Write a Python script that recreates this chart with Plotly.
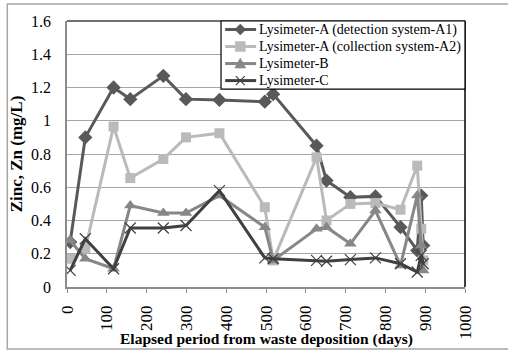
import plotly.graph_objects as go

days = [8, 46, 117, 159, 242, 299, 383, 497, 518, 627, 652, 712, 775, 838, 880, 890, 895]
lys_A1 = [0.27, 0.90, 1.20, 1.13, 1.27, 1.13, 1.125, 1.115, 1.16, 0.85, 0.64, 0.54, 0.545, 0.36, 0.22, 0.55, 0.25]
lys_A2 = [0.17, 0.23, 0.965, 0.655, 0.77, 0.90, 0.925, 0.48, 0.16, 0.78, 0.40, 0.50, 0.505, 0.465, 0.73, 0.35, 0.16]
lys_B = [0.28, 0.17, 0.11, 0.49, 0.445, 0.445, 0.55, 0.36, 0.16, 0.35, 0.36, 0.26, 0.46, 0.13, 0.55, 0.25, 0.10]
lys_C = [0.10, 0.29, 0.11, 0.355, 0.355, 0.37, 0.58, 0.175, 0.17, 0.16, 0.155, 0.165, 0.175, 0.14, 0.09, 0.19, 0.14]

names = ["Lysimeter-A (detection system-A1)", "Lysimeter-A (collection system-A2)",
         "Lysimeter-B", "Lysimeter-C"]

x_ticks = [0, 100, 200, 300, 400, 500, 600, 700, 800, 900, 1000]
y_ticks = [0, 0.2, 0.4, 0.6, 0.8, 1.0, 1.2, 1.4, 1.6]
y_ticktext = ["0", "0.2", "0.4", "0.6", "0.8", "1", "1.2", "1.4", "1.6"]

FONT = "Liberation Serif"
colors = ["#595959", "#BABABA", "#878787", "#404040"]

fig = go.Figure()
fig.add_trace(go.Scatter(x=days, y=lys_A1, name=names[0], mode="lines+markers",
                         line=dict(color=colors[0], width=3),
                         marker=dict(symbol="diamond", size=11, color=colors[0])))
fig.add_trace(go.Scatter(x=days, y=lys_A2, name=names[1], mode="lines+markers",
                         line=dict(color=colors[1], width=3),
                         marker=dict(symbol="square", size=10, color=colors[1])))
fig.add_trace(go.Scatter(x=days, y=lys_B, name=names[2], mode="lines+markers",
                         line=dict(color=colors[2], width=3),
                         marker=dict(symbol="triangle-up", size=11, color=colors[2])))
fig.add_trace(go.Scatter(x=days, y=lys_C, name=names[3], mode="lines+markers",
                         line=dict(color=colors[3], width=3),
                         marker=dict(symbol="x-thin-open", size=11,
                                     line=dict(color=colors[3], width=1.2))))

# outer chart border
fig.add_shape(type="rect", xref="paper", yref="paper",
              x0=-0.150, x1=1.113, y0=-0.233, y1=1.064,
              line=dict(color="#A6A6A6", width=1.5), layer="below")
# plot area top/right edges
fig.add_shape(type="line", xref="paper", yref="paper", x0=0, x1=1, y0=1, y1=1,
              line=dict(color="#404040", width=1.5))
fig.add_shape(type="line", xref="paper", yref="paper", x0=1, x1=1, y0=0, y1=1,
              line=dict(color="#000000", width=1.5))

# custom legend (compact, like the original)
LX0, LX1, LY0, LY1 = 0.387, 1.0, 0.744, 1.0
fig.add_shape(type="rect", xref="paper", yref="paper", x0=LX0, x1=LX1, y0=LY0, y1=LY1,
              fillcolor="white", line=dict(color="#000000", width=1.2), layer="above")
row_y = [0.968, 0.904, 0.840, 0.776]
line_x0, line_x1, mark_x, text_x = 0.3974, 0.4752, 0.4354, 0.4779
marker_paths = [
    ("M0,-5.5 L5.5,0 L0,5.5 L-5.5,0 Z", True),
    ("M-5,-5 L5,-5 L5,5 L-5,5 Z", True),
    ("M-5.5,-4.5 L5.5,-4.5 L0,5.5 Z", True),
    ("M-4.5,-4.5 L4.5,4.5 M-4.5,4.5 L4.5,-4.5", False),
]
for i, (nm, col) in enumerate(zip(names, colors)):
    fig.add_shape(type="line", xref="paper", yref="paper",
                  x0=line_x0, x1=line_x1, y0=row_y[i], y1=row_y[i],
                  line=dict(color=col, width=3), layer="above")
    path, filled = marker_paths[i]
    fig.add_shape(type="path", xref="paper", yref="paper",
                  xsizemode="pixel", ysizemode="pixel",
                  xanchor=mark_x, yanchor=row_y[i], path=path,
                  fillcolor=col if filled else None,
                  line=dict(color=col, width=1.2 if not filled else 0.5),
                  layer="above")
    fig.add_annotation(x=text_x, y=row_y[i], xref="paper", yref="paper",
                       text=nm, showarrow=False, xanchor="left", yanchor="middle",
                       font=dict(family=FONT, size=14, color="#000000"))

# x-axis title placed precisely
fig.add_annotation(x=0.5, y=-0.196, xref="paper", yref="paper",
                   text="<b>Elapsed period from waste deposition (days)</b>",
                   showarrow=False, xanchor="center", yanchor="middle",
                   font=dict(family=FONT, size=15.5, color="#000000"))

fig.update_layout(
    width=508, height=353,
    margin=dict(l=67, r=43, t=21, b=66, autoexpand=False),
    paper_bgcolor="white", plot_bgcolor="white",
    font=dict(family=FONT, color="#000000", size=14),
    showlegend=False,
    xaxis=dict(range=[0, 1000], tickvals=x_ticks, tickangle=-90, automargin=False,
               showgrid=False, zeroline=False,
               showline=True, linecolor="#8C8C8C", linewidth=1.5,
               ticks="outside", ticklen=4, tickcolor="#8C8C8C",
               ticklabelstandoff=6,
               tickfont=dict(family=FONT, size=17)),
    yaxis=dict(range=[0, 1.6], tickvals=y_ticks, ticktext=y_ticktext, automargin=False,
               showgrid=True, gridcolor="#A6A6A6", gridwidth=1, zeroline=False,
               showline=True, linecolor="#8C8C8C", linewidth=1.5,
               ticks="", ticklabelstandoff=11,
               tickfont=dict(family=FONT, size=16),
               title=dict(text="<b>Zinc, Zn (mg/L)</b>",
                          font=dict(family=FONT, size=17), standoff=4)),
)

fig.write_html("out.html", config={"displayModeBar": False},
               post_script="document.body.style.margin='0';")
